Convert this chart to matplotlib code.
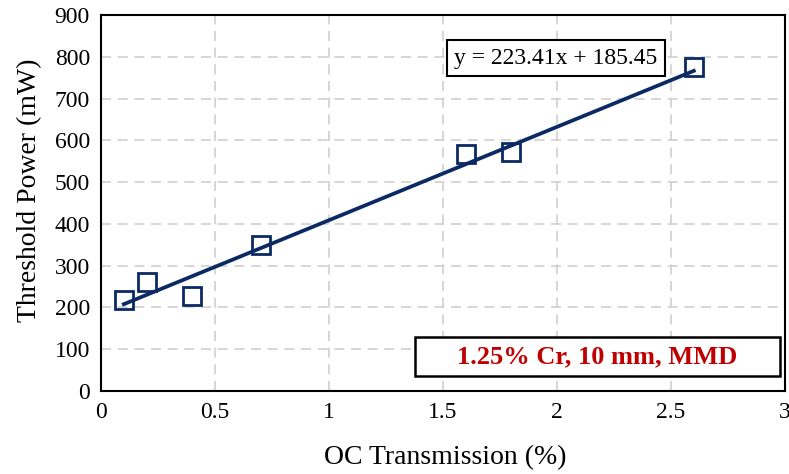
import numpy as np
import matplotlib.pyplot as plt
from matplotlib.patches import Rectangle

plt.rcParams['font.family'] = ['Liberation Serif', 'DejaVu Serif']

oc_transmission = [0.1, 0.2, 0.4, 0.7, 1.6, 1.8, 2.6]
threshold_power = [218, 261, 227, 349, 567, 572, 775]
slope, intercept = 223.41, 185.45
fit_label = "y = 223.41x + 185.45"
sample_label = "1.25% Cr, 10 mm, MMD"

NAVY = "#0b2a63"


def main():
    fig = plt.figure(figsize=(7.89, 4.74), dpi=100)
    ax = fig.add_axes([101 / 789, 1 - 391 / 474, 684 / 789, 376 / 474])

    xs = np.array(oc_transmission)
    fit_x = np.array([xs.min(), xs.max()])
    ax.plot(fit_x, slope * fit_x + intercept, color=NAVY, lw=2.7, zorder=3)
    ax.plot(oc_transmission, threshold_power, ls="none", marker="s", ms=12.5,
            mfc="none", mec=NAVY, mew=2, zorder=4)

    ax.set_xlim(0, 3)
    ax.set_ylim(0, 900)
    ax.set_xticks(np.arange(0, 3.01, 0.5))
    ax.set_xticklabels(["0", "0.5", "1", "1.5", "2", "2.5", "3"])
    ax.set_yticks(np.arange(0, 901, 100))
    ax.tick_params(length=0, labelsize=17, pad=8)
    ax.grid(True, ls=(0, (6, 4)), color="#d0d0d0", lw=1.2)
    ax.set_axisbelow(True)
    for s in ax.spines.values():
        s.set_linewidth(1.5)
        s.set_color("black")

    ax.set_xlabel("OC Transmission (%)", fontsize=20, va="center")
    ax.xaxis.set_label_coords(0.503, -0.178)
    ax.set_ylabel("Threshold Power (mW)", fontsize=20, va="center")
    ax.yaxis.set_label_coords(-0.104, 0.535)

    ax.text(1.996, 797, fit_label, fontsize=17, ha="center", va="center",
            bbox=dict(boxstyle="square,pad=0.3", fc="white", ec="black", lw=1.5),
            zorder=5)
    ax.add_patch(Rectangle((1.377, 36), 1.601, 93, fc="white", ec="black",
                           lw=1.8, zorder=5))
    ax.text(2.177, 83, sample_label, fontsize=19, fontweight="bold",
            color="#c00000", ha="center", va="center", zorder=6)

    fig.savefig("out.png", dpi=100)


if __name__ == "__main__":
    main()
